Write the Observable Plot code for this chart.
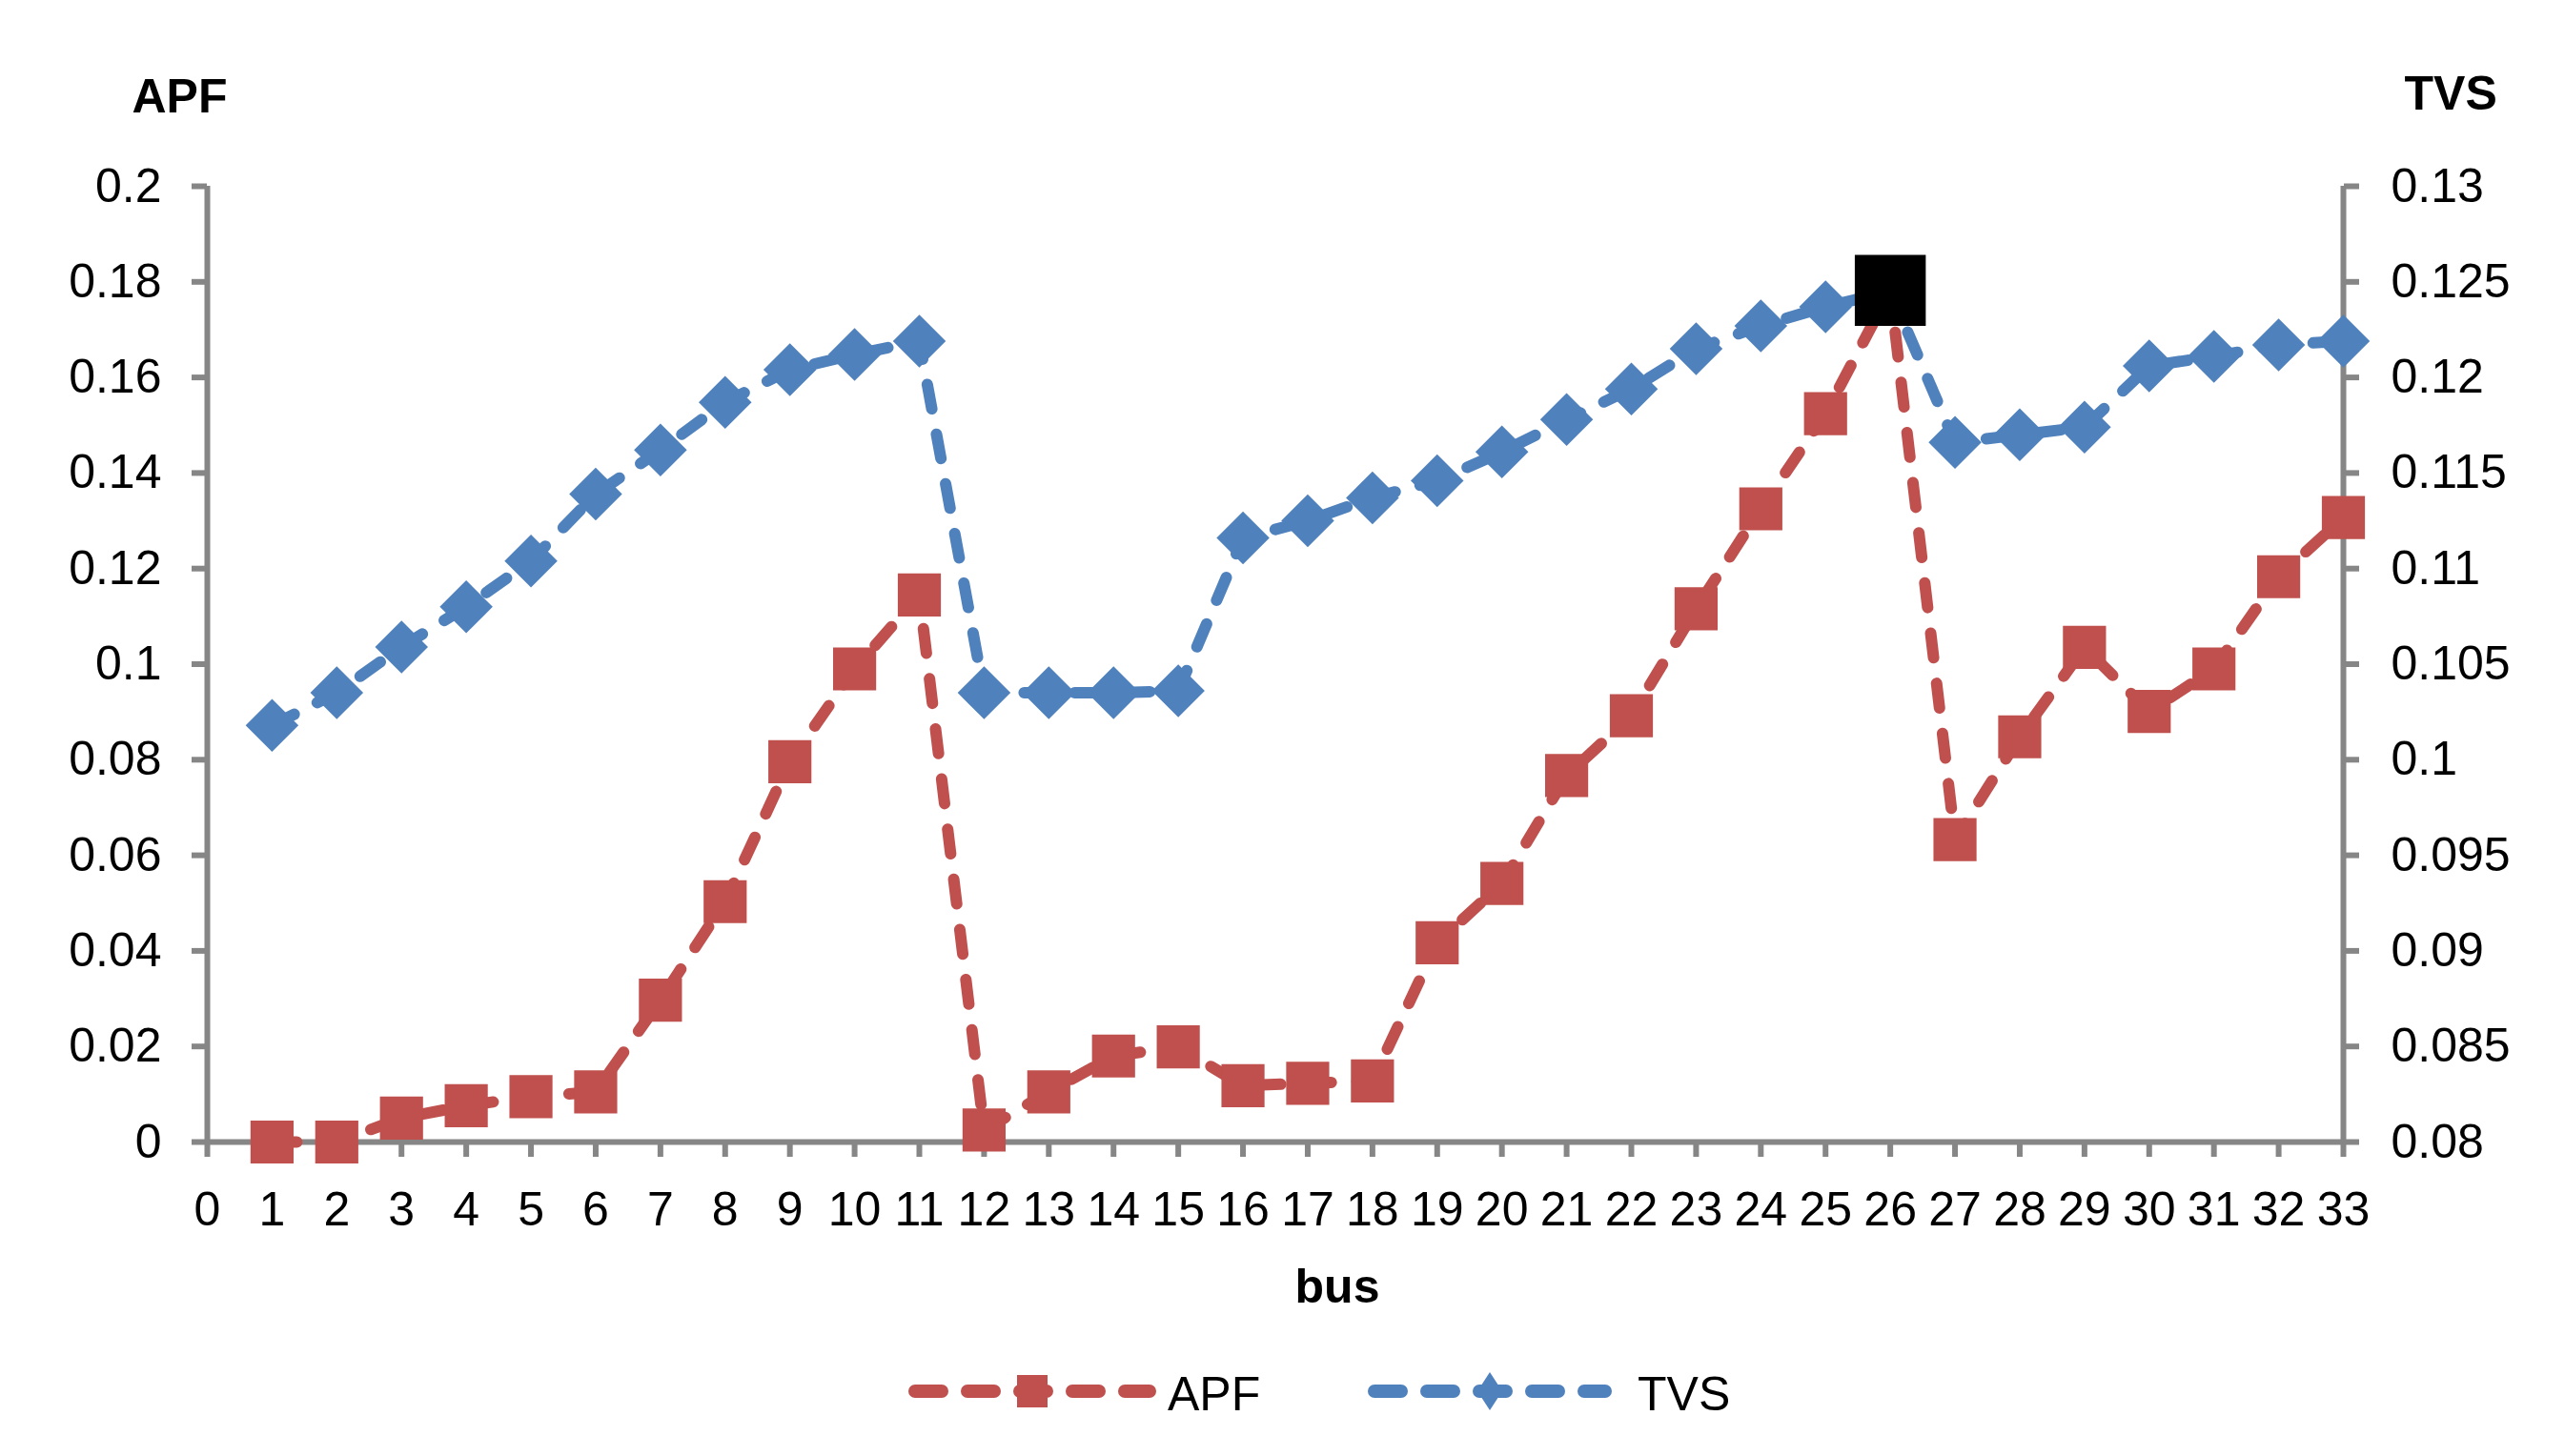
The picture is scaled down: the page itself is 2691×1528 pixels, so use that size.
<!DOCTYPE html>
<html>
<head>
<meta charset="utf-8">
<script src="https://cdn.jsdelivr.net/npm/d3@7"></script>
<script src="https://cdn.jsdelivr.net/npm/@observablehq/plot@0.6"></script>
<style>
  html, body { margin: 0; padding: 0; background: #fff; }
  #wrap { position: relative; width: 2691px; height: 1528px; overflow: hidden; font-family: "Liberation Sans", Arial, sans-serif; }
  #chart svg { display: block; }
  #legend { position: absolute; left: 0; top: 1400px; }
</style>
</head>
<body>
<div id="wrap">
  <div id="chart"></div>
  <div id="legend"></div>
</div>
<script>
// ---- data ----
const buses = [1,2,3,4,5,6,7,8,9,10,11,12,13,14,15,16,17,18,19,20,21,22,23,24,25,26,27,28,29,30,31,32,33];
const apf = [0, 0, 0.005, 0.0076, 0.0095, 0.0105, 0.0297, 0.0503, 0.0796, 0.099, 0.1145,
             0.0025, 0.0105, 0.018, 0.0199, 0.0118, 0.0123, 0.0128, 0.0417, 0.0541, 0.0767,
             0.0892, 0.1116, 0.1325, 0.1524, 0.1782, 0.0633, 0.0848, 0.1035, 0.0901, 0.0990,
             0.1183, 0.1307];
const tvs = [0.1018, 0.1035, 0.1059, 0.1080, 0.1104, 0.1139, 0.1162, 0.1187, 0.1204, 0.1212, 0.1219,
             0.1035, 0.1035, 0.1035, 0.1036, 0.1116, 0.1125, 0.1137, 0.1146, 0.1161, 0.1178,
             0.1194, 0.1215, 0.1227, 0.1237, 0.1245, 0.1166, 0.1170, 0.1174, 0.1206, 0.1211,
             0.1217, 0.1219];
const highlightBus = [26];
const seriesNames = ["APF", "TVS"];
const xTicks = [0,1,2,3,4,5,6,7,8,9,10,11,12,13,14,15,16,17,18,19,20,21,22,23,24,25,26,27,28,29,30,31,32,33];
const apfTicks = [0, 0.02, 0.04, 0.06, 0.08, 0.1, 0.12, 0.14, 0.16, 0.18, 0.2];
const tvsTicks = [0.08, 0.085, 0.09, 0.095, 0.1, 0.105, 0.11, 0.115, 0.12, 0.125, 0.13];
const xDomain = [0, 33];
const apfDomain = [0, 0.2];
const tvsDomain = [0.08, 0.13];
const xLabel = "bus";

// ---- style ----
const RED = "#C0504D", BLUE = "#4F81BD", AXIS = "#868686";
const FONT = "Liberation Sans, Arial, sans-serif";
const W = 2691, H = 1400;

const data = buses.map((b, i) => ({bus: b, apf: apf[i], tvs: tvs[i]}));
const tvsToY = d3.scaleLinear(tvsDomain, apfDomain);
const fmt = v => String(+v.toFixed(4));

const axisCommon = {tickSize: 16, stroke: AXIS, strokeWidth: 6, fill: "#000", fontSize: 50, label: null};

const chart = Plot.plot({
  width: W,
  height: H,
  marginTop: 195,
  marginBottom: H - 1198,
  marginLeft: 217,
  marginRight: W - 2458,
  style: {fontFamily: FONT, fontSize: "50px", background: "#fff", color: "#000"},
  x: {domain: xDomain, axis: null, label: null},
  y: {domain: apfDomain, axis: null, label: null},
  marks: [
    Plot.axisX(xTicks, {...axisCommon, anchor: "bottom", tickPadding: 36, tickFormat: d => String(d)}),
    Plot.axisY(apfTicks, {...axisCommon, anchor: "left", tickPadding: 32, tickFormat: fmt}),
    Plot.axisY(tvsTicks.map(tvsToY), {...axisCommon, anchor: "right", tickPadding: 34, tickFormat: d => fmt(tvsToY.invert(d))}),
    Plot.ruleX([xDomain[0]], {stroke: AXIS, strokeWidth: 6}),
    Plot.ruleX([xDomain[1]], {stroke: AXIS, strokeWidth: 6}),
    Plot.ruleY([apfDomain[0]], {stroke: AXIS, strokeWidth: 6}),
    Plot.line(data, {x: "bus", y: "apf", stroke: RED, strokeWidth: 12, strokeDasharray: "26,27", strokeLinecap: "round", strokeLinejoin: "round"}),
    Plot.dot(data, {x: "bus", y: "apf", symbol: "square", r: 25.5, fill: RED}),
    Plot.line(data, {x: "bus", y: d => tvsToY(d.tvs), stroke: BLUE, strokeWidth: 12, strokeDasharray: "26,27", strokeLinecap: "round", strokeLinejoin: "round"}),
    Plot.dot(data, {x: "bus", y: d => tvsToY(d.tvs), symbol: "diamond2", r: 25, fill: BLUE}),
    Plot.dot(data.filter(d => highlightBus.includes(d.bus)), {x: "bus", y: "apf", symbol: "square", r: 42, fill: "#000"}),
    Plot.text([seriesNames[0]], {frameAnchor: "top-left", textAnchor: "start", lineAnchor: "bottom", dx: -79, dy: -78, fontWeight: "bold", fontSize: 50, fill: "#000"}),
    Plot.text([seriesNames[1]], {frameAnchor: "top-right", textAnchor: "start", lineAnchor: "bottom", dx: 64, dy: -81, fontWeight: "bold", fontSize: 50, fill: "#000"}),
    Plot.text([xLabel], {frameAnchor: "bottom", textAnchor: "middle", lineAnchor: "bottom", dx: 65, dy: 168, fontWeight: "bold", fontSize: 50, fill: "#000"})
  ]
});
document.getElementById("chart").appendChild(chart);

// ---- legend (below the SVG) ----
const lg = d3.select("#legend").append("svg")
  .attr("width", W).attr("height", 128)
  .style("display", "block")
  .attr("font-family", FONT);
const items = [
  {name: seriesNames[0], color: RED, x0: 953, x1: 1213, tx: 1225, shape: "square"},
  {name: seriesNames[1], color: BLUE, x0: 1435, x1: 1691, tx: 1718, shape: "diamond"}
];
const ly = 60;
items.forEach(it => {
  const g = lg.append("g");
  g.append("line")
    .attr("x1", it.x0 + 7).attr("x2", it.x1 - 7)
    .attr("y1", ly).attr("y2", ly)
    .attr("stroke", it.color).attr("stroke-width", 14)
    .attr("stroke-linecap", "round")
    .attr("stroke-dasharray", "28,27");
  const cx = (it.x0 + it.x1) / 2;
  if (it.shape === "square") {
    g.append("rect").attr("x", cx - 16).attr("y", ly - 17).attr("width", 32).attr("height", 34).attr("fill", it.color);
  } else {
    g.append("path").attr("d", `M${cx},${ly-20}L${cx+13},${ly}L${cx},${ly+20}L${cx-13},${ly}Z`).attr("fill", it.color);
  }
  g.append("text").attr("x", it.tx).attr("y", ly + 20)
    .attr("font-size", 50).attr("fill", "#000").text(it.name);
});
</script>
</body>
</html>
